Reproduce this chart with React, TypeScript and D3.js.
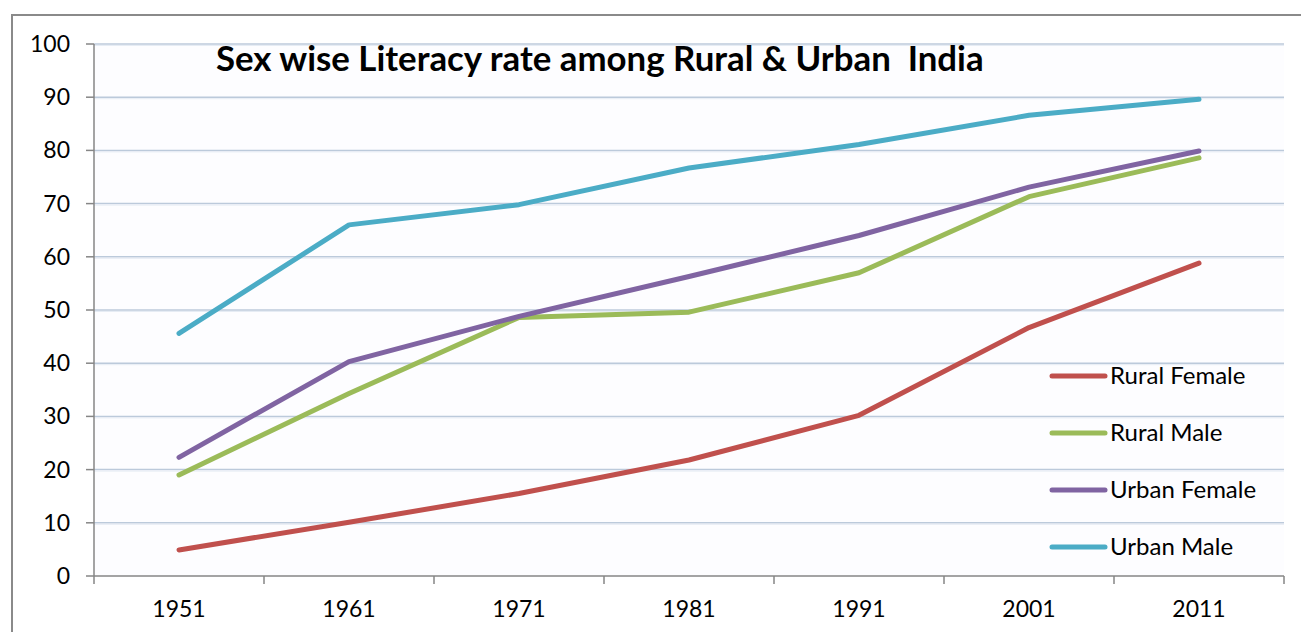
import React from "react";
import * as d3 from "d3";

const years = ["1951", "1961", "1971", "1981", "1991", "2001", "2011"];
const ruralFemale = [4.9, 10.1, 15.5, 21.8, 30.2, 46.7, 58.8];
const ruralMale = [19.0, 34.3, 48.6, 49.6, 57.0, 71.3, 78.6];
const urbanFemale = [22.3, 40.3, 48.8, 56.3, 64.0, 73.1, 79.9];
const urbanMale = [45.6, 66.0, 69.8, 76.7, 81.1, 86.6, 89.6];
const yTicks = [0, 10, 20, 30, 40, 50, 60, 70, 80, 90, 100];
const seriesNames = ["Rural Female", "Rural Male", "Urban Female", "Urban Male"];
const seriesColors = ["#C0504D", "#9BBB59", "#8064A2", "#4BACC6"];
const title = "Sex wise Literacy rate among Rural & Urban  India";

export default function App() {
  const W = 1301, H = 632;
  const left = 94, right = 1284, top = 44, bottom = 576;
  const x = d3.scaleBand<string>().domain(years).range([left, right]);
  const y = d3.scaleLinear().domain([0, 100]).range([bottom, top]);
  const series = [ruralFemale, ruralMale, urbanFemale, urbanMale];
  const line = d3.line<number>()
    .x((_, i) => (x(years[i]) as number) + x.bandwidth() / 2)
    .y((d) => y(d));
  const font = "Lato, 'Open Sans', sans-serif";
  return (
    <svg width={W} height={H} style={{ position: "absolute", left: 0, top: 0, background: "#fff" }}>
      <rect x={0} y={0} width={W} height={H} fill="#fff" />
      <path d={`M12,${H + 5} V15 H${W + 5}`} fill="none" stroke="#8a8a8a" strokeWidth={2} />
      <rect x={left} y={top} width={right - left} height={bottom - top} fill="#fdfdff" />
      {yTicks.filter((t) => t > 0).map((t) => (
        <g key={t}>
          <line x1={left} x2={right} y1={y(t)} y2={y(t)} stroke="#bccadb" strokeWidth={1.5} />
          <line x1={left} x2={right} y1={y(t) + 1.5} y2={y(t) + 1.5} stroke="#e6ecf4" strokeWidth={1} />
        </g>
      ))}
      <line x1={left} x2={left} y1={top} y2={bottom} stroke="#868686" strokeWidth={1.5} />
      <line x1={left} x2={right} y1={bottom} y2={bottom} stroke="#868686" strokeWidth={1.5} />
      {yTicks.map((t) => (
        <g key={t}>
          <line x1={left - 8} x2={left} y1={y(t)} y2={y(t)} stroke="#868686" strokeWidth={1.5} />
          <text x={70} y={y(t) + 8} textAnchor="end" fontFamily={font} fontSize={23} fill="#000">{t}</text>
        </g>
      ))}
      {years.map((yr) => (
        <line key={"t" + yr} x1={(x(yr) as number)} x2={(x(yr) as number)} y1={bottom} y2={bottom + 8} stroke="#868686" strokeWidth={1.5} />
      ))}
      <line x1={right} x2={right} y1={bottom} y2={bottom + 8} stroke="#868686" strokeWidth={1.5} />
      {years.map((yr) => (
        <text key={yr} x={(x(yr) as number) + x.bandwidth() / 2} y={617} textAnchor="middle" fontFamily={font} fontSize={23} fill="#000">{yr}</text>
      ))}
      {series.map((s, i) => (
        <path key={i} d={line(s) as string} fill="none" stroke={seriesColors[i]} strokeWidth={5} strokeLinecap="round" strokeLinejoin="round" />
      ))}
      {seriesNames.map((n, i) => (
        <g key={n}>
          <line x1={1052} x2={1105} y1={376 + i * 57} y2={376 + i * 57} stroke={seriesColors[i]} strokeWidth={5} strokeLinecap="round" />
          <text x={1110} y={384 + i * 57} fontFamily={font} fontSize={24} fill="#000">{n}</text>
        </g>
      ))}
      <text x={216} y={71} fontFamily={font} fontWeight="bold" fontSize={34.8} fill="#000" style={{ whiteSpace: "pre" }}>{title}</text>
    </svg>
  );
}
